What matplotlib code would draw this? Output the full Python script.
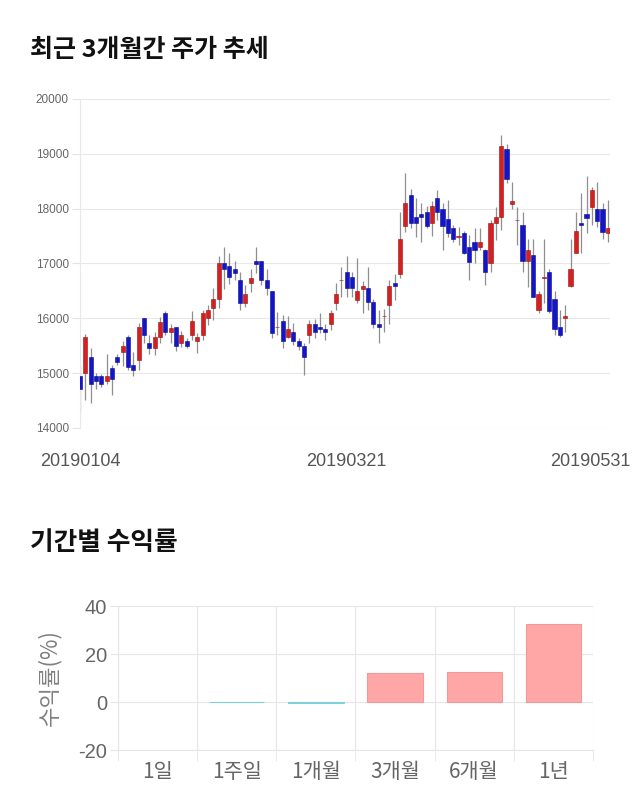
import numpy as np
import matplotlib
matplotlib.use("Agg")
import matplotlib.pyplot as plt
from matplotlib.transforms import ScaledTranslation

plt.rcParams['font.family'] = ['Noto Sans CJK KR', 'DejaVu Sans']
plt.rcParams['axes.unicode_minus'] = False

# daily candles, 2019-01-04 .. 2019-05-31
opens = [14950, 15000, 15300, 14950, 14950, 14850, 15100, 15300, 15380, 15660,
         15150, 15240, 16000, 15550, 15460, 15660, 16100, 15750, 15840, 15550,
         15590, 15700, 15590, 15700, 16000, 16190, 16350, 17010, 16950, 16900,
         16700, 16280, 16640, 17050, 17050, 16700, 16500, 15840, 15950, 15660,
         15750, 15590, 15490, 15700, 15900, 15840, 15800, 15900, 16280, 16690,
         16850, 16750, 16330, 16540, 16550, 16300, 15900, 16040, 16240, 16640,
         16800, 17680, 18250, 17850, 17900, 17940, 17740, 18190, 18000, 17810,
         17650, 17490, 17550, 17300, 17400, 17300, 17250, 17000, 17740, 17850,
         19090, 18090, 17790, 17700, 17050, 17150, 16150, 16740, 16850, 16350,
         15840, 16000, 16590, 17190, 17740, 17900, 18030, 18000, 18000, 17550]
highs = [15150, 15710, 15460, 15000, 14980, 15350, 15150, 15350, 15590, 15700,
         15380, 15910, 16000, 15700, 15750, 16020, 16140, 15900, 15850, 15770,
         15650, 16130, 15730, 16150, 16240, 16550, 17130, 17300, 17200, 17050,
         16850, 16600, 16900, 17300, 17050, 16900, 16500, 16120, 16060, 16050,
         15910, 15650, 15550, 15970, 15980, 16100, 15900, 16150, 16640, 16940,
         17140, 16850, 17100, 16680, 16940, 16350, 16150, 16170, 16700, 16800,
         17940, 18650, 18350, 18190, 18100, 18050, 18140, 18340, 18100, 18160,
         17700, 17670, 17600, 17520, 17650, 17650, 17270, 17800, 18030, 19340,
         19180, 18490, 18030, 17940, 17450, 17450, 16500, 17450, 16900, 16500,
         16150, 16240, 17450, 17940, 18290, 18600, 18400, 18490, 18100, 18150]
lows = [14290, 14510, 14450, 14710, 14750, 14800, 14600, 15150, 15130, 15050,
        14950, 15060, 15550, 15350, 15340, 15550, 15700, 15550, 15400, 15470,
        15450, 15610, 15370, 15600, 15870, 15970, 16190, 16530, 16630, 16700,
        16150, 16200, 16480, 16830, 16600, 16430, 15650, 15700, 15460, 15650,
        15510, 15420, 14960, 15550, 15650, 15740, 15600, 15790, 16150, 16390,
        16390, 16390, 16280, 16100, 16150, 15820, 15550, 15750, 15900, 16330,
        16730, 17570, 17650, 17480, 17400, 17650, 17500, 17800, 17250, 17480,
        17400, 17340, 17180, 16700, 17010, 17250, 16600, 16850, 17430, 17610,
        18470, 18000, 17340, 16850, 16570, 16380, 16100, 16280, 16100, 15700,
        15660, 15750, 16570, 17190, 17190, 17550, 17700, 17660, 17450, 17400]
closes = [14710, 15660, 14800, 14850, 14800, 14940, 14900, 15200, 15490, 15110,
          15050, 15840, 15700, 15460, 15660, 15930, 15750, 15820, 15490, 15700,
          15490, 15950, 15660, 16100, 16150, 16350, 17010, 16900, 16750, 16830,
          16280, 16440, 16730, 16990, 16700, 16550, 15730, 15850, 15590, 15800,
          15590, 15490, 15300, 15900, 15750, 15800, 15750, 16100, 16440, 16700,
          16550, 16550, 16500, 16590, 16300, 15900, 15840, 16050, 16590, 16590,
          17450, 18100, 17740, 17740, 17850, 17680, 18050, 17940, 17680, 17550,
          17450, 17500, 17190, 17030, 17250, 17400, 16850, 17740, 17850, 19140,
          18540, 18140, 17800, 17050, 17250, 16390, 16440, 16750, 16130, 15800,
          15700, 16040, 16900, 17590, 17700, 17830, 18340, 17780, 17580, 17650]
date_ticks = [0, 50, 99]
date_labels = ["20190104", "20190321", "20190531"]

periods = ["1일", "1주일", "1개월", "3개월", "6개월", "1년"]
returns = [0.0, -0.2, -0.6, 12.0, 12.7, 32.6]

fig = plt.figure(figsize=(6.4, 8.1), dpi=100)

fig.text(30/640, 1-50/810, "최근 3개월간 주가 추세", fontsize=18, fontweight='bold',
         va='center', ha='left', color='#111111')
fig.text(30/640, 1-543/810, "기간별 수익률", fontsize=18.5, fontweight='bold',
         va='center', ha='left', color='#111111')

# candle chart
ax = fig.add_axes([80/640, 1-428/810, 530/640, 329/810])
o = np.array(opens); h = np.array(highs); l = np.array(lows); c = np.array(closes)
x = np.arange(len(o))
ax.vlines(x, l, h, color='#8f8f8f', linewidth=0.9, zorder=2)
up = c > o
dn = c < o
eq = c == o
ax.bar(x[up], (c - o)[up], bottom=o[up], width=0.78, color='#d42020',
       edgecolor='#9a1010', linewidth=0.4, zorder=3)
ax.bar(x[dn], (o - c)[dn], bottom=c[dn], width=0.78, color='#1515c8',
       edgecolor='#0a0a90', linewidth=0.4, zorder=3)
ax.hlines(c[eq], x[eq] - 0.4, x[eq] + 0.4, color='#222222', linewidth=1.2, zorder=3)
ax.set_xlim(0, 99.4)
ax.set_ylim(14000, 20000)
ax.set_yticks(range(14000, 20001, 1000))
ax.set_yticklabels([str(v) for v in range(14000, 20001, 1000)], family='Liberation Sans')
ax.tick_params(axis='y', labelsize=8.5, labelcolor='#666666', color='#e3e3e3',
               length=6, width=0.8, pad=2)
ax.grid(axis='y', color='#e8e8e8', linewidth=0.8)
ax.set_axisbelow(True)
for s in ['top', 'right', 'bottom']:
    ax.spines[s].set_visible(False)
ax.spines['left'].set_color('#e8e8e8')
ax.set_xticks(date_ticks)
ax.set_xticklabels(date_labels, fontsize=13, color='#555555', family='Liberation Sans')
ax.tick_params(axis='x', length=0, pad=18)
last = ax.get_xticklabels()[-1]
last.set_transform(last.get_transform() + ScaledTranslation(-0.18, 0, fig.dpi_scale_trans))

# returns chart
bx = fig.add_axes([118/640, 1-750/810, 475/640, 144/810])
r = np.array(returns)
cols = ['#ffa6a6' if v > 0 else '#a8e4ea' for v in r]
ecs = ['#f29a9a' if v > 0 else '#7fd0da' for v in r]
lws = [0.8 if v != 0 else 0 for v in r]
bx.bar(np.arange(len(r)), r, width=0.7, color=cols, edgecolor=ecs, linewidth=lws, zorder=3)
bx.set_xlim(-0.5, len(r) - 0.5)
bx.set_ylim(-20, 40)
bx.set_yticks([-20, 0, 20, 40])
bx.set_yticklabels(['-20', '0', '20', '40'], family='Liberation Sans')
bx.set_xticks(np.arange(len(r)))
bx.set_xticklabels(periods)
bx.set_xticks(np.arange(len(r) + 1) - 0.5, minor=True)
bx.grid(axis='y', color='#e6e6e6', linewidth=0.8, zorder=0)
bx.grid(axis='x', which='minor', color='#e6e6e6', linewidth=0.8, zorder=0)
bx.tick_params(axis='x', which='major', length=0, labelsize=15, labelcolor='#666666', pad=8)
bx.tick_params(axis='x', which='minor', length=8, color='#e6e6e6')
bx.tick_params(axis='y', labelsize=14.5, labelcolor='#666666', color='#e6e6e6', length=6, pad=2)
for s in ['top', 'right']:
    bx.spines[s].set_visible(False)
bx.spines['left'].set_color('#e6e6e6')
bx.spines['bottom'].set_color('#e6e6e6')
bx.set_ylabel("수익률(%)", fontsize=16, color='#808080', labelpad=12)

fig.savefig("out.png", dpi=100)
